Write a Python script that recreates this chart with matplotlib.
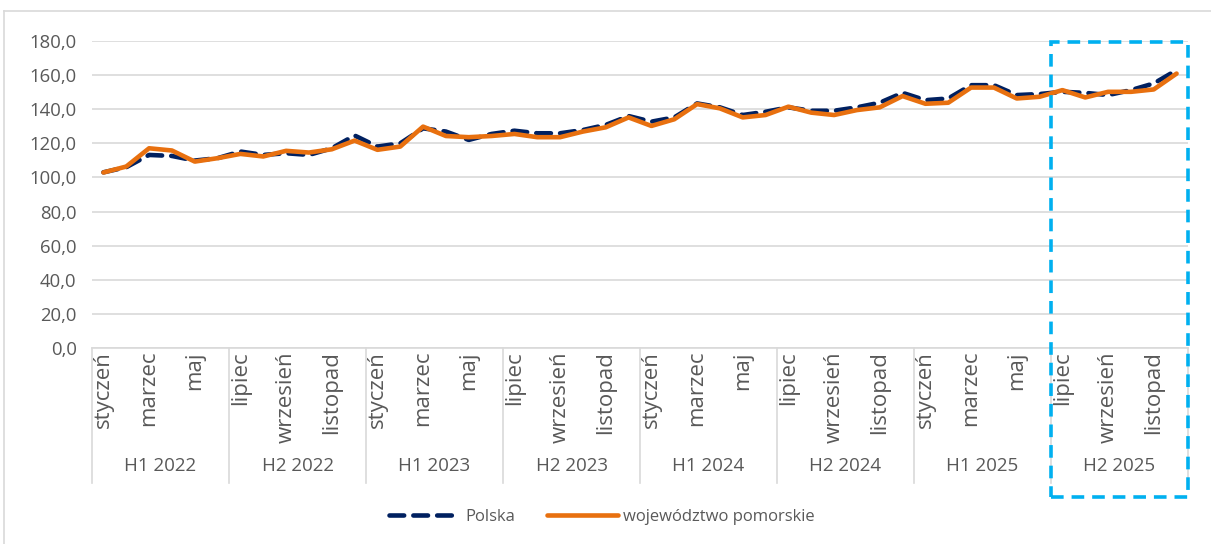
import matplotlib
matplotlib.use("Agg")
import matplotlib.pyplot as plt
from matplotlib.patches import Rectangle
from matplotlib.lines import Line2D
from matplotlib.ticker import FuncFormatter, FixedLocator
import matplotlib.transforms as mtransforms

plt.rcParams['font.family'] = ['Open Sans', 'DejaVu Sans']

months_shown = ["styczeń", "marzec", "maj", "lipiec", "wrzesień", "listopad"]
halves = ["H1 2022", "H2 2022", "H1 2023", "H2 2023",
          "H1 2024", "H2 2024", "H1 2025", "H2 2025"]

polska = [103.0, 106.0, 113.2, 112.6, 109.9, 111.3, 115.2, 113.2, 114.2, 113.2, 117.1, 124.6,
          118.1, 120.0, 128.8, 126.9, 122.0, 125.5, 127.4, 125.9, 125.9, 127.8, 130.8, 136.0,
          132.7, 135.2, 143.4, 141.1, 136.6, 138.5, 141.1, 139.1, 139.1, 141.1, 143.8, 149.6,
          145.3, 146.3, 154.1, 154.1, 148.3, 148.9, 150.2, 149.6, 148.3, 151.2, 155.1, 162.9]
pomorskie = [102.9, 106.4, 117.1, 115.8, 109.3, 111.3, 113.8, 112.3, 115.6, 114.6, 116.5, 121.6,
             116.2, 118.1, 129.8, 124.3, 123.6, 124.3, 125.5, 123.6, 123.6, 126.9, 129.4, 135.2,
             130.2, 134.1, 143.0, 140.5, 135.2, 136.6, 141.5, 138.0, 136.6, 139.5, 141.1, 147.7,
             143.2, 143.8, 152.7, 152.7, 146.3, 147.3, 151.2, 146.9, 150.2, 150.2, 151.6, 160.9]
y_ticks = [0, 20, 40, 60, 80, 100, 120, 140, 160, 180]

W, H = 1211, 544
fig = plt.figure(figsize=(W / 100, H / 100), dpi=100)
ax = fig.add_axes([92 / W, 1 - 348 / H, (1188 - 92) / W, (348 - 41) / H])

n = len(polska)
x = list(range(n))
txt = '#595959'
grid = '#D9D9D9'

ax.plot(x, polska, color='#002060', lw=3.3, linestyle=(0, (3.2, 2.0)),
        dash_capstyle='round', solid_capstyle='round', zorder=3, label='Polska')
ax.plot(x, pomorskie, color='#E8700F', lw=3.3, solid_capstyle='round',
        solid_joinstyle='round', zorder=4, label='województwo pomorskie')

ax.set_xlim(-0.5, n - 0.5)
ax.set_ylim(0, 180)
ax.yaxis.set_major_locator(FixedLocator(y_ticks))
ax.yaxis.set_major_formatter(FuncFormatter(lambda v, p: f"{v:.1f}".replace('.', ',')))
ax.grid(axis='y', color=grid, lw=1.2)
ax.set_axisbelow(True)
for s in ['top', 'right', 'left']:
    ax.spines[s].set_visible(False)
ax.spines['bottom'].set_color(grid)
ax.spines['bottom'].set_linewidth(1.2)
ax.tick_params(axis='y', length=0, labelsize=13.3, labelcolor=txt, pad=11)
ax.tick_params(axis='x', length=0)
ax.set_xticks([])

trans = mtransforms.blended_transform_factory(ax.transData, ax.transAxes)
ax_h = 348 - 41
# month labels
for h in range(len(halves)):
    start = h * 6
    names = months_shown[:3] if h % 2 == 0 else months_shown[3:]
    for k, nm in enumerate(names):
        ax.text(start + 2 * k, -3 / ax_h, nm, rotation=90, ha='center', va='top',
                fontsize=16, color=txt, transform=trans)
    ax.text(start + 2.5, -(466 - 348) / ax_h, halves[h], ha='center', va='center',
            fontsize=13.5, color=txt, transform=trans)
# separators
for b in range(len(halves) + 1):
    xb = b * 6 - 0.5
    ax.add_line(Line2D([xb, xb], [0, -(483 - 348) / ax_h], color=grid, lw=1.2,
                       transform=trans, clip_on=False))

# highlight box
x0 = 41.5
rect = Rectangle((x0, -(497 - 348) / ax_h), (n - 0.5) - x0, (348 - 42 + 497 - 348) / ax_h,
                 transform=trans, fill=False, edgecolor='#00B0F0', lw=2.6,
                 linestyle=(0, (3.5, 2.2)), clip_on=False, zorder=5)
ax.add_patch(rect)

# figure border (left and top)
fig.add_artist(Line2D([4 / W, 4 / W], [0, 1 - 11 / H], color=grid, lw=1.2,
                      transform=fig.transFigure))
fig.add_artist(Line2D([4 / W, 1], [1 - 11 / H, 1 - 11 / H], color=grid, lw=1.2,
                      transform=fig.transFigure))

leg = fig.legend(loc='center', bbox_to_anchor=(0.497, 1 - 517 / H), ncol=2, frameon=False,
                 fontsize=12, handlelength=4.3, columnspacing=1.9, handletextpad=0.3)
for t in leg.get_texts():
    t.set_color(txt)

fig.savefig('out.png', dpi=100)
